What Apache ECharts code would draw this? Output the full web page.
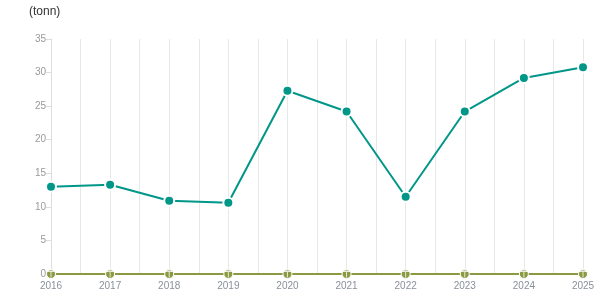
<!DOCTYPE html>
<html><head><meta charset="utf-8">
<script src="https://cdn.jsdelivr.net/npm/echarts@6/dist/echarts.min.js"></script>
<style>html,body{margin:0;padding:0;background:#fff}#c{width:615px;height:305px}</style>
</head><body><div id="c"></div>
<script>
const years = ['2016','2017','2018','2019','2020','2021','2022','2023','2024','2025'];
const tonnes = [13.0, 13.3, 10.9, 10.6, 27.3, 24.2, 11.5, 24.2, 29.2, 30.8];
const baseline = [0, 0, 0, 0, 0, 0, 0, 0, 0, 0];
const yTicks = [0, 5, 10, 15, 20, 25, 30, 35];
const unitLabel = '(tonn)';

const gridCats = [];
for (let i = 0; i < years.length * 2 - 1; i++) gridCats.push(String(i));

const chart = echarts.init(document.getElementById('c'));
chart.setOption({
  animation: false,
  title: { text: unitLabel, left: 24, top: 1, textStyle: { fontSize: 12, fontWeight: 'normal', color: '#333', fontFamily: 'Arial, Liberation Sans' } },
  grid: { left: 51, right: 32, top: 39, bottom: 31 },
  xAxis: [{
    type: 'category', data: years, boundaryGap: false,
    axisLine: { show: false }, axisTick: { show: false },
    axisLabel: { color: '#8a8f99', fontSize: 10, margin: 7, fontFamily: 'Arial, Liberation Sans' },
    splitLine: { show: false }
  }, {
    type: 'category', data: gridCats, boundaryGap: false, position: 'bottom',
    axisLine: { show: false }, axisTick: { show: false }, axisLabel: { show: false },
    splitLine: { show: true, interval: 0, lineStyle: { color: '#e8e8e8', width: 1 } }
  }],
  yAxis: {
    type: 'value', min: yTicks[0], max: yTicks[yTicks.length - 1], interval: 5,
    axisLine: { show: true, lineStyle: { color: '#dddddd' } },
    axisTick: { show: true, length: 5, lineStyle: { color: '#dddddd' } },
    axisLabel: { color: '#999', fontSize: 10, margin: 5, fontFamily: 'Arial, Liberation Sans' },
    splitLine: { show: false }
  },
  series: [{
    type: 'line', data: baseline, xAxisIndex: 0, z: 3,
    symbol: 'circle', symbolSize: 9,
    lineStyle: { color: '#8a9a42', width: 2 },
    itemStyle: { color: '#8a9a42', borderColor: '#fff', borderWidth: 1 }
  }, {
    type: 'scatter', data: baseline, xAxisIndex: 0, z: 4, silent: true,
    symbol: 'path://M0,3H10V4.4H5.7V10H4.3V4.4H0Z', symbolSize: [7, 7],
    itemStyle: { color: '#ffffff' }
  }, {
    type: 'line', data: tonnes, xAxisIndex: 0, z: 5,
    symbol: 'circle', symbolSize: 10,
    lineStyle: { color: '#009688', width: 2 },
    itemStyle: { color: '#009688', borderColor: '#fff', borderWidth: 2 }
  }]
});
</script></body></html>
